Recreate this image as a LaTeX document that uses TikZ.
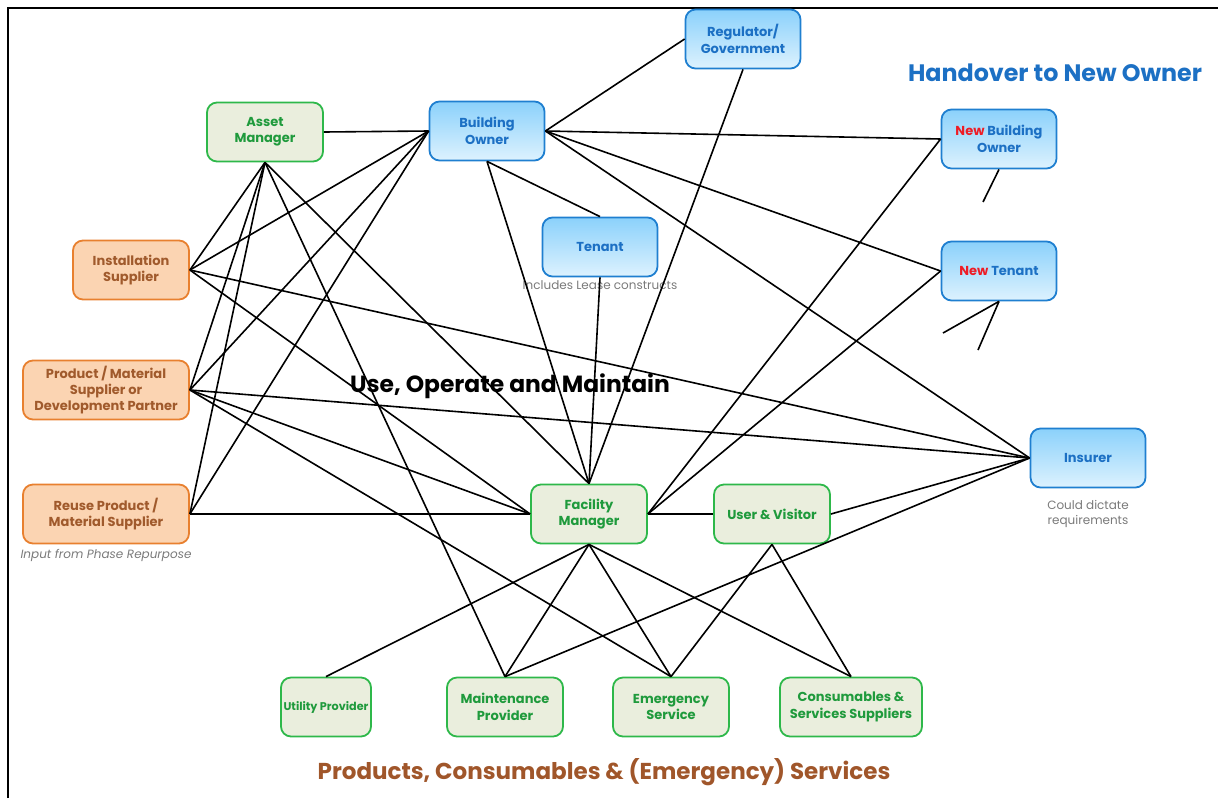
\documentclass[tikz,border=0pt]{standalone}
\usepackage{fontspec}
\setmainfont{Poppins}
\usetikzlibrary{positioning}

\definecolor{grnfill}{HTML}{EAEEDD}
\definecolor{grnline}{HTML}{2EB84A}
\definecolor{grntext}{HTML}{1F9A3C}
\definecolor{orgfill}{HTML}{FBD4B2}
\definecolor{orgline}{HTML}{E8802F}
\definecolor{orgtext}{HTML}{A05A2C}
\definecolor{blutop}{HTML}{8BD1FB}
\definecolor{blubot}{HTML}{DDF2FE}
\definecolor{bluline}{HTML}{1F7FD0}
\definecolor{blutext}{HTML}{1C70C4}
\definecolor{newred}{HTML}{EE1C25}
\definecolor{notegray}{HTML}{7A7A7A}
\definecolor{brntext}{HTML}{A0562A}

\begin{document}
\begin{tikzpicture}[x=0.5pt, y=-0.5pt,
  box/.style={rounded corners=5pt, line width=0.9pt, align=center, inner sep=1pt,
    minimum height=29.5pt, font=\bfseries\fontsize{6.5}{8.2}\selectfont},
  grnbox/.style={box, draw=grnline, fill=grnfill, text=grntext, minimum width=#1},
  grnbox/.default=58pt,
  orgbox/.style={box, draw=orgline, fill=orgfill, text=orgtext, minimum width=#1},
  orgbox/.default=58pt,
  blubox/.style={box, draw=bluline, top color=blutop, bottom color=blubot, text=blutext, minimum width=57.5pt},
  link/.style={line width=0.8pt},
  note/.style={text=notegray, font=\fontsize{6}{7.4}\selectfont, align=center, inner sep=1pt}]

  \useasboundingbox (0,0) rectangle (1218,798);
  \draw[line width=1pt] (8,798) -- (8,8) -- (1218,8);

  \node[blubox] (Reg)    at (743,39)  {Regulator/\\Government};
  \node[grnbox] (AM)     at (265,132) {Asset\\Manager};
  \node[blubox] (BO)     at (487,131) {Building\\Owner};
  \node[blubox] (NBO)    at (999,139) {{\color{newred}New} Building\\Owner};
  \node[blubox] (Tenant) at (600,247) {Tenant};
  \node[orgbox] (IS)     at (131,270) {Installation\\Supplier};
  \node[blubox] (NT)     at (999,271) {{\color{newred}New} Tenant};
  \node[orgbox=83pt] (PM) at (106,390) {Product / Material\\Supplier or\\Development Partner};
  \node[blubox] (Ins)    at (1088,458) {Insurer};
  \node[orgbox=83pt] (RP) at (106,514) {Reuse Product /\\Material Supplier};
  \node[grnbox] (FM)     at (589,514) {Facility\\Manager};
  \node[grnbox] (UV)     at (772,514) {User \& Visitor};
  \node[grnbox=45pt, inner xsep=0pt, font=\bfseries\fontsize{5.6}{8}\selectfont] (UP) at (326,707) {Utility Provider};
  \node[grnbox] (MP)     at (505,707) {Maintenance\\Provider};
  \node[grnbox] (ES)     at (671,707) {Emergency\\Service};
  \node[grnbox=71pt] (CS) at (851,707) {Consumables \&\\Services Suppliers};

  \node[note, below=0.5pt of Tenant] (TenNote) {Includes Lease constructs};
  \node[note, below=5pt of Ins]    (InsNote) {Could dictate\\requirements};
  \node[note, below=1.5pt of RP, font=\itshape\fontsize{6}{7.4}\selectfont] (RPNote) {Input from Phase Repurpose};

  \node[text=blutext, font=\bfseries\fontsize{11.9}{14}\selectfont] (Handover) at (1055,73) {Handover to New Owner};
  \node[font=\bfseries\fontsize{11.7}{14}\selectfont] (UOM) at (510,386) {Use, Operate and Maintain};
  \node[text=brntext, font=\bfseries\fontsize{11.5}{14}\selectfont] (PCS) at (604,772) {Products, Consumables \& (Emergency) Services};

  \coordinate (NBOend) at (983,202);
  \coordinate (NTendA) at (943,333);
  \coordinate (NTendB) at (978,350);

  \draw[link] (AM.east) -- (BO.west);
  \draw[link] (BO.east) -- (Reg.west);
  \draw[link] (BO.east) -- (NBO.west);
  \draw[link] (BO.east) -- (NT.west);
  \draw[link] (BO.east) -- (Ins.west);
  \draw[link] (BO.south) -- (Tenant.north);
  \draw[link] (BO.south) -- (FM.north);
  \draw[link] (Reg.south) -- (FM.north);
  \draw[link] (Tenant.south) -- (FM.north);
  \draw[link] (NBO.west) -- (FM.east);
  \draw[link] (NT.west) -- (FM.east);
  \draw[link] (IS.east) -- (AM.south);
  \draw[link] (IS.east) -- (BO.west);
  \draw[link] (IS.east) -- (Ins.west);
  \draw[link] (IS.east) -- (FM.west);
  \draw[link] (PM.east) -- (AM.south);
  \draw[link] (PM.east) -- (BO.west);
  \draw[link] (PM.east) -- (Ins.west);
  \draw[link] (PM.east) -- (FM.west);
  \draw[link] (PM.east) -- (ES.north);
  \draw[link] (RP.east) -- (AM.south);
  \draw[link] (RP.east) -- (BO.west);
  \draw[link] (RP.east) -- (FM.west);
  \draw[link] (AM.south) -- (MP.north);
  \draw[link] (AM.south) -- (FM.north);
  \draw[link] (FM.east) -- (UV.west);
  \draw[link] (UV.east) -- (Ins.west);
  \draw[link] (UV.south) -- (ES.north);
  \draw[link] (UV.south) -- (CS.north);
  \draw[link] (FM.south) -- (UP.north);
  \draw[link] (FM.south) -- (MP.north);
  \draw[link] (FM.south) -- (ES.north);
  \draw[link] (FM.south) -- (CS.north);
  \draw[link] (Ins.west) -- (MP.north);
  \draw[link] (NBO.south) -- (NBOend);
  \draw[link] (NT.south) -- (NTendA);
  \draw[link] (NT.south) -- (NTendB);
\end{tikzpicture}
\end{document}
